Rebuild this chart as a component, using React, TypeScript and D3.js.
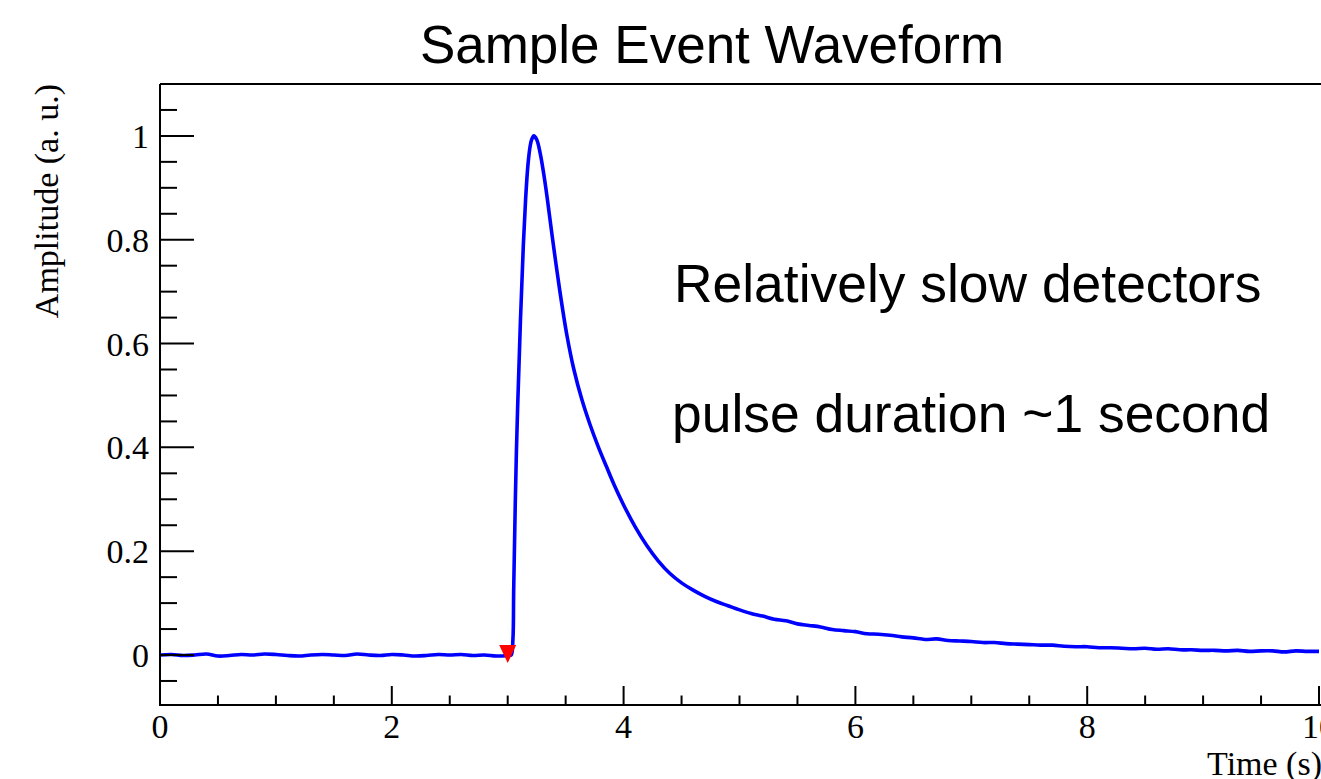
import React from "react";
import * as d3 from "d3";

// ---- data ----
const timeS: number[] = [
  0.0, 0.1, 0.2, 0.3, 0.4, 0.5, 0.6, 0.7, 0.8, 0.9,
  1.0, 1.1, 1.2, 1.3, 1.4, 1.5, 1.6, 1.7, 1.8, 1.9,
  2.0, 2.1, 2.2, 2.3, 2.4, 2.5, 2.6, 2.7, 2.8, 2.9,
  3.0, 3.03, 3.045, 3.052, 3.075, 3.11, 3.135, 3.155, 3.175, 3.195,
  3.21, 3.225, 3.25, 3.28, 3.31, 3.34, 3.385, 3.45, 3.51, 3.57,
  3.64, 3.71, 3.78, 3.85, 3.92, 4.0, 4.1, 4.2, 4.3, 4.4,
  4.5, 4.6, 4.7, 4.8, 4.9,
  5.0, 5.1, 5.2, 5.3, 5.4, 5.5, 5.6, 5.7, 5.8, 5.9,
  6.0, 6.1, 6.2, 6.3, 6.4, 6.5, 6.6, 6.7, 6.8, 6.9,
  7.0, 7.1, 7.2, 7.3, 7.4, 7.5, 7.6, 7.7, 7.8, 7.9,
  8.0, 8.1, 8.2, 8.3, 8.4, 8.5, 8.6, 8.7, 8.8, 8.9,
  9.0, 9.1, 9.2, 9.3, 9.4, 9.5, 9.6, 9.7, 9.8, 9.9,
  10.0,
];
const amplitude: number[] = [
  0.0, 0.001, -0.001, 0.0, 0.002, -0.002, -0.001, 0.001, 0.0, 0.002,
  0.001, -0.001, -0.002, 0.0, 0.001, 0.0, -0.001, 0.002, 0.0, -0.001,
  0.001, 0.0, -0.002, -0.001, 0.001, 0.0, 0.001, -0.001, 0.0, -0.002,
  -0.001, 0.0, 0.03, 0.13, 0.39, 0.645, 0.79, 0.88, 0.945, 0.982,
  0.995, 1.0, 0.993, 0.967, 0.928, 0.882, 0.805, 0.701, 0.617, 0.551,
  0.492, 0.444, 0.402, 0.364, 0.327, 0.289, 0.247, 0.211, 0.181, 0.157,
  0.139, 0.125, 0.113, 0.103, 0.095,
  0.087, 0.08, 0.075, 0.069, 0.066, 0.06, 0.057, 0.054, 0.049, 0.047,
  0.045, 0.041, 0.04, 0.038, 0.035, 0.033, 0.03, 0.031, 0.028, 0.027,
  0.026, 0.024, 0.024, 0.022, 0.021, 0.02, 0.019, 0.019, 0.017, 0.016,
  0.016, 0.014, 0.014, 0.013, 0.012, 0.013, 0.011, 0.012, 0.01, 0.01,
  0.009, 0.009, 0.008, 0.009, 0.007, 0.008, 0.008, 0.006, 0.008, 0.007,
  0.007,
];
const triggerTime = 3.0;
const triggerAmp = 0.0;

const xMajorTicks = [0, 2, 4, 6, 8, 10];
const xTickLabels = ["0", "2", "4", "6", "8", "10"];
const yMajorTicks = [0, 0.2, 0.4, 0.6, 0.8, 1];
const yTickLabels = ["0", "0.2", "0.4", "0.6", "0.8", "1"];

const titleText = "Sample Event Waveform";
const xTitle = "Time (s)";
const yTitle = "Amplitude (a. u.)";
const note1 = "Relatively slow detectors";
const note2 = "pulse duration ~1 second";

export default function App() {
  const W = 1321;
  const H = 779;
  const left = 160;
  const right = 1319;
  const top = 84;
  const bottom = 705;

  const x = d3.scaleLinear().domain([0, 10]).range([left, right]);
  const y = d3.scaleLinear().domain([-0.0963, 1.1]).range([bottom, top]);

  const xMinor = d3.range(0, 10.001, 0.5).filter((v) => Math.abs(v % 2) > 1e-6);
  const yMinor = d3.range(-0.05, 1.0501, 0.05).filter(
    (v) => !yMajorTicks.some((m) => Math.abs(m - v) < 1e-6)
  );

  const pts = timeS.map((t, i) => [t, amplitude[i]] as [number, number]);
  const line = d3
    .line<[number, number]>()
    .x((d) => x(d[0]))
    .y((d) => y(d[1]))
    .curve(d3.curveCatmullRom.alpha(0.5));

  const serif = "'Liberation Serif', 'Times New Roman', serif";
  const sans = "'Liberation Sans', Arial, Helvetica, sans-serif";

  const tx = x(triggerTime);
  const ty = y(triggerAmp);

  return (
    <div style={{ position: "fixed", left: 0, top: 0, width: W, height: H, background: "#fff" }}>
      <svg width={W} height={H} style={{ display: "block" }}>
        <rect x={0} y={0} width={W} height={H} fill="#fff" />
        <defs>
          <clipPath id="frameClip">
            <rect x={left} y={top} width={right - left + 5} height={bottom - top} />
          </clipPath>
        </defs>

        {/* title */}
        <text x={712} y={63} textAnchor="middle" fontFamily={sans} fontSize={53} fill="#000">
          {titleText}
        </text>

        {/* data line */}
        <path
          d={line(pts) || ""}
          fill="none"
          stroke="#0000ff"
          strokeWidth={3.6}
          strokeLinejoin="round"
          clipPath="url(#frameClip)"
        />

        {/* trigger marker */}
        <path
          d={`M${tx - 8.5},${ty - 10} L${tx + 8.5},${ty - 10} L${tx},${ty + 8} Z`}
          fill="#ff0000"
        />

        {/* frame */}
        <line x1={left} y1={top} x2={W + 5} y2={top} stroke="#000" strokeWidth={2} />
        <line x1={left} y1={top} x2={left} y2={bottom} stroke="#000" strokeWidth={2} />
        <line x1={left - 1} y1={bottom} x2={W + 5} y2={bottom} stroke="#000" strokeWidth={2} />

        {/* x ticks */}
        {xMajorTicks.map((v, i) => (
          <g key={"xm" + i}>
            <line x1={x(v)} y1={bottom} x2={x(v)} y2={bottom - 19} stroke="#000" strokeWidth={2} />
            <text
              x={x(v)}
              y={738}
              textAnchor="middle"
              fontFamily={serif}
              fontSize={34}
              fill="#000"
            >
              {xTickLabels[i]}
            </text>
          </g>
        ))}
        {xMinor.map((v, i) => (
          <line key={"xn" + i} x1={x(v)} y1={bottom} x2={x(v)} y2={bottom - 9.5} stroke="#000" strokeWidth={2} />
        ))}

        {/* y ticks */}
        {yMajorTicks.map((v, i) => (
          <g key={"ym" + i}>
            <line x1={left} y1={y(v)} x2={left + 34} y2={y(v)} stroke="#000" strokeWidth={2} />
            <text
              x={149}
              y={y(v) + 12}
              textAnchor="end"
              fontFamily={serif}
              fontSize={34}
              fill="#000"
            >
              {yTickLabels[i]}
            </text>
          </g>
        ))}
        {yMinor.map((v, i) => (
          <line key={"yn" + i} x1={left} y1={y(v)} x2={left + 17} y2={y(v)} stroke="#000" strokeWidth={2} />
        ))}

        {/* axis titles */}
        <text x={1322} y={775} textAnchor="end" fontFamily={serif} fontSize={34} fill="#000">
          {xTitle}
        </text>
        <text
          transform={`translate(58, ${top}) rotate(-90)`}
          textAnchor="end"
          fontFamily={serif}
          fontSize={34}
          fill="#000"
        >
          {yTitle}
        </text>

        {/* annotations */}
        <text x={674} y={302} fontFamily={sans} fontSize={53.4} fill="#000">
          {note1}
        </text>
        <text x={672} y={432} fontFamily={sans} fontSize={53.4} fill="#000">
          {note2}
        </text>
      </svg>
    </div>
  );
}
